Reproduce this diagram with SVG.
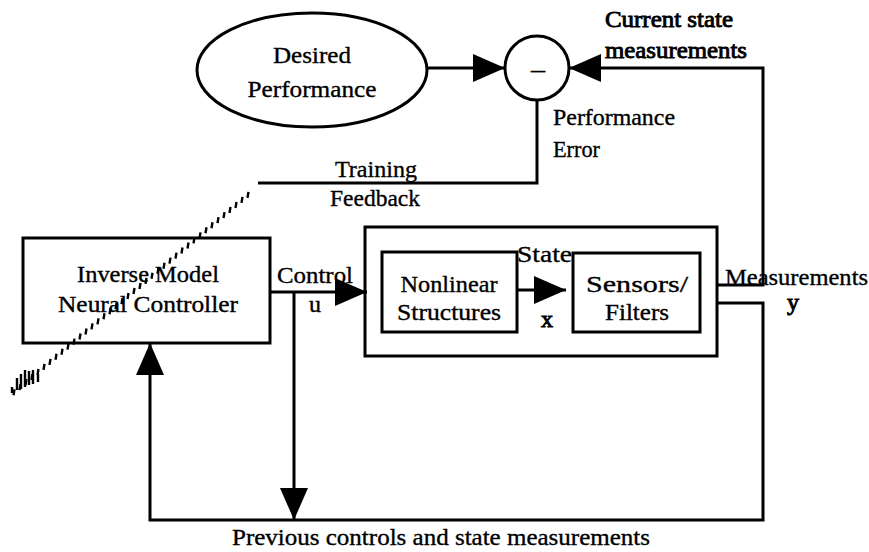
<svg xmlns="http://www.w3.org/2000/svg" width="869" height="552" viewBox="0 0 869 552">
<defs>
<style>
.t{font-family:"Liberation Serif","Times New Roman",serif;font-size:24px;fill:#000;stroke:#000;stroke-width:0.35}
.c{text-anchor:middle}
.b{stroke-width:0.9}
.ln{fill:none;stroke:#000;stroke-width:3}
.hatch{fill:none;stroke:#000;stroke-width:2.4}
</style>
<marker id="ah" markerUnits="userSpaceOnUse" markerWidth="32" markerHeight="28" refX="32" refY="14" orient="auto">
<path d="M0,0 L32,14 L0,28 z" fill="#000"/>
</marker>
</defs>
<rect width="869" height="552" fill="#fff"/>

<g id="connectors">
<line class="ln" x1="427" y1="68" x2="505" y2="68" marker-end="url(#ah)"/>
<path class="ln" d="M717,285 H763 V68 H569" marker-end="url(#ah)"/>
<path class="ln" d="M537,100 V183 H258"/>
<path class="hatch" d="M13.5,395.2 l1,-6 m5,0.94 l1,-6 m5,0.94 l1,-6 m5,0.94 l1,-6 m5,0.94 l1,-6 m5,0.94 l1,-6 m5,0.94 l1,-6 m5,0.94 l1,-6 m5,0.94 l1,-6 m5,0.94 l1,-6 m5,0.94 l1,-6 m5,0.94 l1,-6 m5,0.94 l1,-6 m5,0.94 l1,-6 m5,0.94 l1,-6 m5,0.94 l1,-6 m5,0.94 l1,-6 m5,0.94 l1,-6 m5,0.94 l1,-6 m5,0.94 l1,-6 m5,0.94 l1,-6 m5,0.94 l1,-6 m5,0.94 l1,-6 m5,0.94 l1,-6 m5,0.94 l1,-6 m5,0.94 l1,-6 m5,0.94 l1,-6 m5,0.94 l1,-6 m5,0.94 l1,-6 m5,0.94 l1,-6 m5,0.94 l1,-6 m5,0.94 l1,-6 m5,0.94 l1,-6 m5,0.94 l1,-6 m5,0.94 l1,-6 m5,0.94 l1,-6 m5,0.94 l1,-6 m5,0.94 l1,-6 m5,0.94 l1,-6 m5,0.94 l1,-6"/>
<path class="hatch" d="M12,393 v-6 M17,390 v-12 M21,389 v-15 M25,387 v-17 M29,385 v-14 M33,384 v-14 M38,382 v-8"/>
<line class="ln" x1="270" y1="292" x2="367" y2="292" marker-end="url(#ah)"/>
<line class="ln" x1="294" y1="292" x2="294" y2="520" marker-end="url(#ah)"/>
<line class="ln" x1="518" y1="290" x2="566" y2="290" marker-end="url(#ah)"/>
<path class="ln" d="M717,303 H763 V520 H150 V343" marker-end="url(#ah)"/>
</g>

<g id="desired">
<ellipse class="ln" cx="312" cy="70" rx="115" ry="57"/>
<text class="t c" x="312" y="63" textLength="78" lengthAdjust="spacingAndGlyphs">Desired</text>
<text class="t c" x="312" y="97" textLength="129" lengthAdjust="spacingAndGlyphs">Performance</text>
</g>

<g id="sum">
<circle class="ln" cx="537" cy="68" r="32"/>
<text class="t c" x="538" y="77" font-size="30" stroke-width="1.8" textLength="14" lengthAdjust="spacingAndGlyphs">–</text>
</g>

<g id="labels">
<text class="t b" x="605" y="27" textLength="128" lengthAdjust="spacingAndGlyphs">Current state</text>
<text class="t b" x="605" y="58" textLength="142" lengthAdjust="spacingAndGlyphs">measurements</text>
<text class="t" x="553" y="125" textLength="122" lengthAdjust="spacingAndGlyphs">Performance</text>
<text class="t" x="553" y="157" textLength="47" lengthAdjust="spacingAndGlyphs">Error</text>
<text class="t" x="335" y="177" textLength="82" lengthAdjust="spacingAndGlyphs">Training</text>
<text class="t" x="330" y="206" textLength="90" lengthAdjust="spacingAndGlyphs">Feedback</text>
<text class="t" x="277" y="283" textLength="76" lengthAdjust="spacingAndGlyphs">Control</text>
<text class="t c" x="315" y="312">u</text>
<text class="t" x="517" y="262" textLength="55" lengthAdjust="spacingAndGlyphs">State</text>
<text class="t c b" x="547" y="327">x</text>
<text class="t" x="725" y="285" textLength="143" lengthAdjust="spacingAndGlyphs">Measurements</text>
<text class="t c b" x="793" y="310">y</text>
<text class="t" x="232" y="545" textLength="418" lengthAdjust="spacingAndGlyphs">Previous controls and state measurements</text>
</g>

<g id="controller">
<rect class="ln" x="23" y="238" width="247" height="105"/>
<text class="t c" x="148" y="282" textLength="142" lengthAdjust="spacingAndGlyphs">Inverse Model</text>
<text class="t c" x="148" y="312" textLength="180" lengthAdjust="spacingAndGlyphs">Neural Controller</text>
</g>

<g id="plant">
<rect class="ln" x="365" y="227" width="352" height="129"/>
</g>

<g id="nonlinear">
<rect class="ln" x="382" y="252" width="135" height="80"/>
<text class="t c" x="449" y="292" textLength="97" lengthAdjust="spacingAndGlyphs">Nonlinear</text>
<text class="t c" x="449" y="320" textLength="104" lengthAdjust="spacingAndGlyphs">Structures</text>
</g>

<g id="sensors">
<rect class="ln" x="573" y="253" width="127" height="79"/>
<text class="t c" x="637" y="292" textLength="102" lengthAdjust="spacingAndGlyphs">Sensors/</text>
<text class="t c" x="637" y="320" textLength="64" lengthAdjust="spacingAndGlyphs">Filters</text>
</g>
</svg>
